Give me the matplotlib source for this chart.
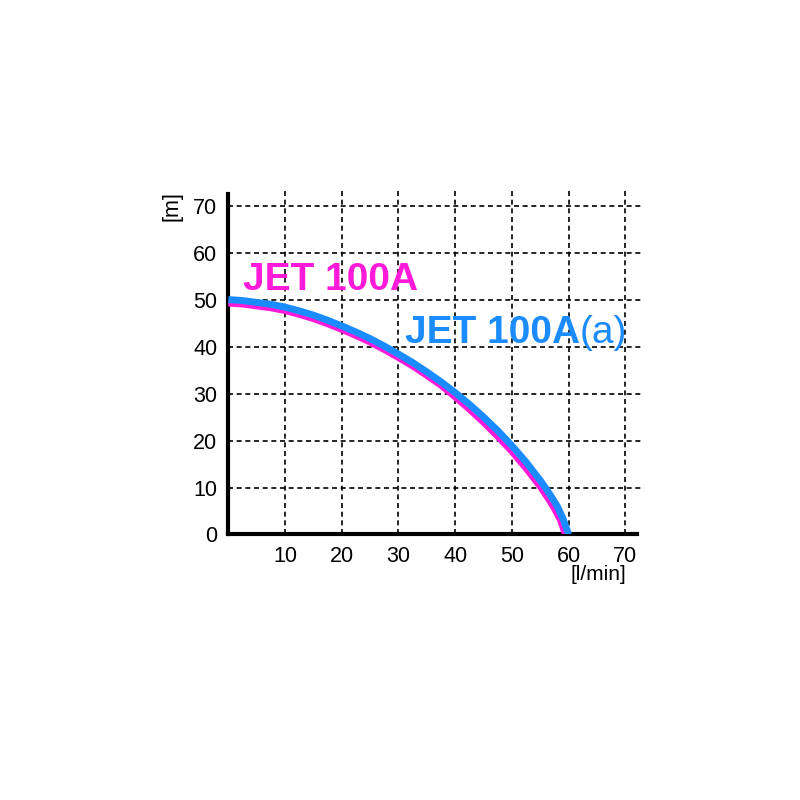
import matplotlib
matplotlib.use("Agg")
import matplotlib.pyplot as plt

plt.rcParams["font.family"] = ["Liberation Sans", "DejaVu Sans"]

# ── Data ─────────────────────────────────────────────────────────────────────
# JET 100A(a)  (blue)
flow_a = [0, 2.5, 5, 7.5, 10, 12.5, 15, 17.5, 20, 22.5, 25, 27.5, 30, 32.5,
          35, 37.5, 40, 42.5, 45, 47.5, 50, 52.5, 55, 56.5, 58, 59, 60]
head_a = [50, 49.8, 49.4, 49.0, 48.4, 47.6, 46.7, 45.6, 44.4, 43.1, 41.7, 40.1,
          38.4, 36.6, 34.6, 32.5, 30.2, 27.7, 25.0, 22.1, 18.9, 15.4, 11.5,
          8.9, 6.0, 3.4, 0]

# JET 100A  (magenta)
flow_b = [0, 2.5, 5, 7.5, 10, 12.5, 15, 17.5, 20, 22.5, 25, 27.5, 30, 32.5,
          35, 37.5, 40, 42.5, 45, 47.5, 50, 52.5, 55, 56.5, 57.5, 58.5, 59.4]
head_b = [49.2, 49.0, 48.6, 48.2, 47.6, 46.8, 45.9, 44.8, 43.6, 42.3, 40.9,
          39.3, 37.6, 35.8, 33.8, 31.7, 29.2, 26.6, 23.8, 20.8, 17.6, 14.0,
          10.1, 7.4, 5.4, 3.1, 0]

x_ticks = [10, 20, 30, 40, 50, 60, 70]
y_ticks = [0, 10, 20, 30, 40, 50, 60, 70]

MAGENTA = "#ff1ad9"
BLUE = "#1a8cff"
LABEL_SIZE = 15.5

fig = plt.figure(figsize=(8, 8), dpi=100)
ax = fig.add_axes([0.2854, 0.3319, 0.519, 0.431])
ax.set_xlim(0, 73.2)
ax.set_ylim(0, 73.4)

# dashed grid (runs a little past the solid axes, like the original)
for xv in x_ticks:
    ax.plot([xv, xv], [0, 73.4], color="black", lw=1.2,
            linestyle=(0, (3, 2.2)), zorder=1, clip_on=False)
for yv in y_ticks[1:]:
    ax.plot([0, 73.2], [yv, yv], color="black", lw=1.2,
            linestyle=(0, (3, 2.2)), zorder=1, clip_on=False)

# curves
ax.plot(flow_b, head_b, color=MAGENTA, lw=4.6, solid_capstyle="butt",
        solid_joinstyle="round", zorder=3)
ax.plot(flow_a, head_a, color=BLUE, lw=5, solid_capstyle="butt",
        solid_joinstyle="round", zorder=4)

# curve names
ax.text(2.6, 52, "JET 100A", color=MAGENTA, fontsize=28, fontweight="bold",
        ha="left", va="baseline")
t = ax.text(31.1, 40.7, "JET 100A", color=BLUE, fontsize=28, fontweight="bold",
            ha="left", va="baseline")
fig.canvas.draw()
bb = t.get_window_extent().transformed(ax.transData.inverted())
ax.text(bb.x1, 40.7, "(a)", color=BLUE, fontsize=28, ha="left", va="baseline")

# axes
for side in ["top", "right"]:
    ax.spines[side].set_visible(False)
ax.spines["left"].set_linewidth(3)
ax.spines["bottom"].set_linewidth(3)
ax.spines["left"].set_bounds(0, 72.4)
ax.spines["bottom"].set_bounds(0, 72.1)

ax.set_xticks(x_ticks)
ax.set_yticks(y_ticks)
ax.tick_params(length=0, labelsize=LABEL_SIZE, pad=8)
ax.tick_params(axis="y", pad=8)

fig.text(172 / 800, 1 - 206 / 800, "[m]", rotation=90, fontsize=LABEL_SIZE,
         ha="center", va="center")
fig.text(598 / 800, 1 - 565 / 800, "[l/min]", fontsize=15,
         ha="center", va="top")

fig.savefig("out.png", dpi=100)
